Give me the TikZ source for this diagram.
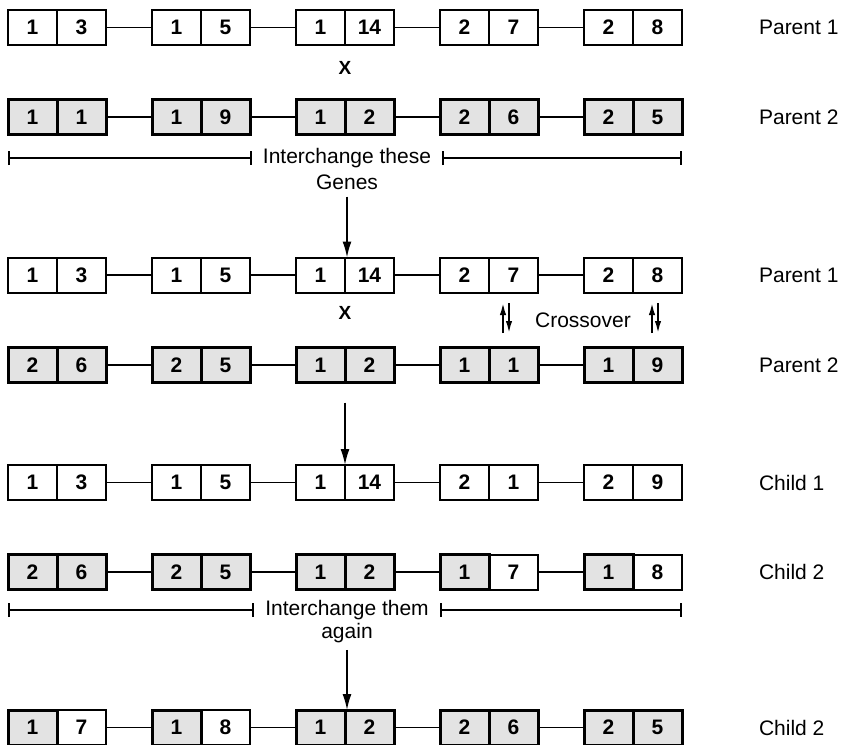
\documentclass[tikz,border=0pt]{standalone}
\usepackage{fontspec}
\setmainfont{Liberation Sans}
\usetikzlibrary{arrows.meta,positioning}

% one chromosome: two gene cells side by side
\newcommand{\chromo}[7]{%
  \node[#4] (#1a) at ({#2},{#3}) {#5};
  \node[#6, right=0pt of #1a] (#1b) {#7};
}

\begin{document}
\begin{tikzpicture}[x=0.5pt, y=-0.5pt,
    gene/.style={draw, line width=1pt, minimum width=24.5pt, minimum height=17.5pt,
                 inner sep=0pt, outer sep=0pt, font=\fontsize{10.5}{12}\selectfont\bfseries},
    shd/.style={gene, fill=gray!22, line width=1.5pt},
    link/.style={line width=0.8pt},
    arr/.style={-{Latex[length=8pt,width=4.5pt]}, line width=0.8pt},
    swap/.style={{Bar[width=7pt]}-{Bar[width=7pt]}, line width=1pt},
    flip/.style={-{Latex[length=6pt,width=3.2pt]}, line width=0.9pt},
    lbl/.style={anchor=west, font=\fontsize{10.5}{12}\selectfont},
    txt/.style={font=\fontsize{10.5}{12}\selectfont},
  ]
    \useasboundingbox (0,0) rectangle (842,745);

    % Parent 1 / Parent 2
    \foreach \sa/\a/\sb/\b [count=\n] in {gene/1/gene/3, gene/1/gene/5, gene/1/gene/14, gene/2/gene/7, gene/2/gene/8}
      {\chromo{pa\n}{32.5+144*(\n-1)}{27.5}{\sa}{\a}{\sb}{\b}}
    \foreach \sa/\a/\sb/\b [count=\n] in {shd/1/shd/1, shd/1/shd/9, shd/1/shd/2, shd/2/shd/6, shd/2/shd/5}
      {\chromo{pb\n}{32.5+144*(\n-1)}{117}{\sa}{\a}{\sb}{\b}}

    % after interchange
    \foreach \sa/\a/\sb/\b [count=\n] in {gene/1/gene/3, gene/1/gene/5, gene/1/gene/14, gene/2/gene/7, gene/2/gene/8}
      {\chromo{pc\n}{32.5+144*(\n-1)}{275}{\sa}{\a}{\sb}{\b}}
    \foreach \sa/\a/\sb/\b [count=\n] in {shd/2/shd/6, shd/2/shd/5, shd/1/shd/2, shd/1/shd/1, shd/1/shd/9}
      {\chromo{pd\n}{32.5+144*(\n-1)}{365}{\sa}{\a}{\sb}{\b}}

    % children
    \foreach \sa/\a/\sb/\b [count=\n] in {gene/1/gene/3, gene/1/gene/5, gene/1/gene/14, gene/2/gene/1, gene/2/gene/9}
      {\chromo{ca\n}{32.5+144*(\n-1)}{482.5}{\sa}{\a}{\sb}{\b}}
    \foreach \sa/\a/\sb/\b [count=\n] in {shd/2/shd/6, shd/2/shd/5, shd/1/shd/2, shd/1/gene/7, shd/1/gene/8}
      {\chromo{cb\n}{32.5+144*(\n-1)}{572}{\sa}{\a}{\sb}{\b}}
    \foreach \sa/\a/\sb/\b [count=\n] in {shd/1/gene/7, shd/1/gene/8, shd/1/shd/2, shd/2/shd/6, shd/2/shd/5}
      {\chromo{cc\n}{32.5+144*(\n-1)}{727.5}{\sa}{\a}{\sb}{\b}}

    % links between the chromosomes
    \foreach \rw in {pa,pb,pc,pd,ca,cb,cc} {
      \foreach \n [count=\m from 2] in {1,2,3,4} {
        \draw[link] (\rw\n b.east) -- (\rw\m a.west);
      }
    }

    \node[lbl] (lpa) at (752,27.5)  {Parent 1};
    \node[lbl] (lpb) at (752,117)   {Parent 2};
    \node[lbl] (lpc) at (752,275)   {Parent 1};
    \node[lbl] (lpd) at (752,365)   {Parent 2};
    \node[lbl] (lca) at (752,482.5) {Child 1};
    \node[lbl] (lcb) at (752,572)   {Child 2};
    \node[lbl] (lcc) at (752,727.5) {Child 2};

    \node[txt, font=\fontsize{9.5}{11}\selectfont\bfseries] (xa) at (345,68)  {X};
    \node[txt, font=\fontsize{9.5}{11}\selectfont\bfseries] (xb) at (345,313) {X};

    \node[txt] (swapa) at (347,158) {Interchange these};
    \node[txt] (genes) at (347,182) {Genes};
    \draw[swap] (pb1a.west |- swapa) -- ([xshift=-2pt]swapa.west);
    \draw[swap] ([xshift=2pt]swapa.east) -- (pb5b.east |- swapa);
    \draw[arr] (genes.south) -- (genes.south |- pc3a.north);

    \node[txt] (cross) at (583,320) {Crossover};
    \foreach \x in {503,652} {
      \draw[flip] (\x,333) -- (\x,303);
      \draw[flip] (\x+6,303) -- (\x+6,333);
    }

    \draw[arr] ([yshift=-10pt]pd3a.south east) -- (ca3a.north east);

    \node[txt] (swapb) at (347,610) {Interchange them};
    \node[txt] (again) at (347,633) {again};
    \draw[swap] (cb1a.west |- swapb) -- ([xshift=-2pt]swapb.west);
    \draw[swap] ([xshift=2pt]swapb.east) -- (cb5b.east |- swapb);
    \draw[arr] (again.south) -- (again.south |- cc3a.north);
  \end{tikzpicture}
\end{document}
